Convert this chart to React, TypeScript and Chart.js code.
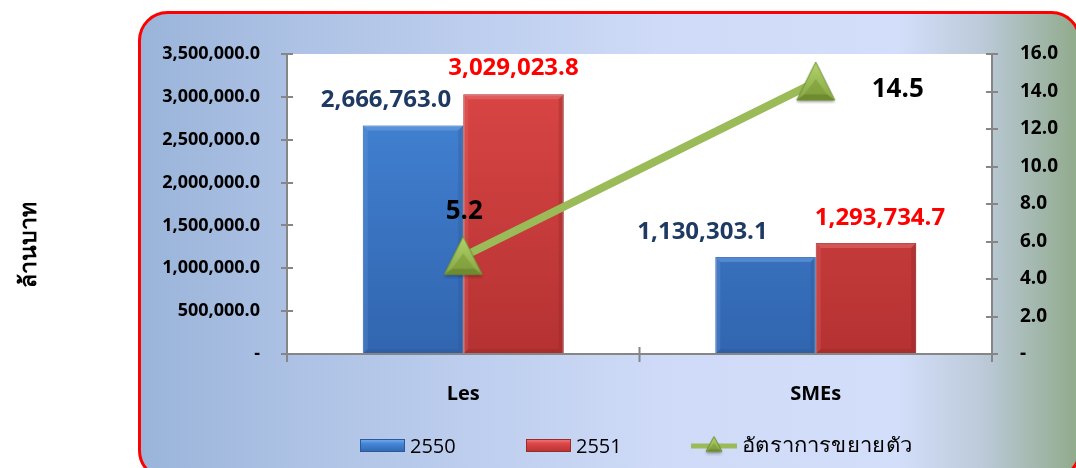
import React, { useEffect, useRef } from 'react';
import { Chart, registerables } from 'chart.js';
Chart.register(...registerables);

// ---- data ----
const categories = ['Les', 'SMEs'];
const series2550 = [2666763.0, 1130303.1];
const series2551 = [3029023.8, 1293734.7];
const growthRate = [5.2, 14.5];
const seriesNames = ['2550', '2551', 'อัตราการขยายตัว'];
const yTitle = 'ล้านบาท';
const leftMax = 3500000;
const leftStep = 500000;
const rightMax = 16;
const rightStep = 2;

// ---- style ----
const FONT = '"Open Sans", "Noto Sans", sans-serif';
const labelOffsets: number[][][] = [
  [[-27, -25], [-63, -25]],
  [[0, -26], [14, -25]],
  [[1, -45], [82, 7]],
];
const labelColors = ['#1F3A62', '#FF0000', '#000000'];

const fmt = (v: number) =>
  v === 0 ? '-' : v.toLocaleString('en-US', { minimumFractionDigits: 1, maximumFractionDigits: 1 });

function makeTriangle(w: number, h: number) {
  const c = document.createElement('canvas');
  c.width = w + 6;
  c.height = h + 6;
  const g = c.getContext('2d')!;
  const cx = c.width / 2;
  const top = 2, bot = h + 2, l = 3, r = w + 3;
  g.save();
  g.shadowColor = 'rgba(0,0,0,0.35)';
  g.shadowBlur = 3;
  g.shadowOffsetY = 2;
  g.beginPath();
  g.moveTo(cx, top);
  g.lineTo(r, bot);
  g.lineTo(l, bot);
  g.closePath();
  const gr = g.createLinearGradient(0, top, 0, bot);
  gr.addColorStop(0, '#B2D46A');
  gr.addColorStop(1, '#86A743');
  g.fillStyle = gr;
  g.fill();
  g.restore();
  const ix = cx, iy = top + h * 0.45;
  const il = l + w * 0.2, ir = r - w * 0.2, ib = bot - h * 0.15;
  g.beginPath();
  g.moveTo(l, bot); g.lineTo(r, bot); g.lineTo(ir, ib); g.lineTo(il, ib); g.closePath();
  g.fillStyle = '#6E8B30';
  g.fill();
  g.beginPath();
  g.moveTo(il, ib); g.lineTo(ir, ib); g.lineTo(ix, iy); g.closePath();
  g.fillStyle = 'rgba(120,150,55,0.55)';
  g.fill();
  g.beginPath();
  g.moveTo(cx, top); g.lineTo(r, bot); g.lineTo(l, bot); g.closePath();
  g.strokeStyle = '#728F35';
  g.lineWidth = 1;
  g.stroke();
  return c;
}

function barGradient(ctx: CanvasRenderingContext2D, area: any, c1: string, c2: string) {
  const g = ctx.createLinearGradient(0, area.top, 0, area.bottom);
  g.addColorStop(0, c1);
  g.addColorStop(1, c2);
  return g;
}

const barStyles = [
  { top: '#4587D9', bottom: '#3165AF', light: '#7DB0EE', dark: '#2A558F', border: '#2C5A98' },
  { top: '#DD4747', bottom: '#B53232', light: '#EE8080', dark: '#8E2626', border: '#9A2B2B' },
];

export default function App() {
  const ref = useRef<HTMLCanvasElement>(null);
  useEffect(() => {
    const canvas = ref.current!;
    const tri = makeTriangle(38, 38);
    const triSmall = makeTriangle(16, 15);

    const decor = {
      id: 'decor',
      beforeDraw(chart: any) {
        const ctx = chart.ctx as CanvasRenderingContext2D;
        const a = chart.chartArea;
        ctx.save();
        const bx = 139.5, by = 12.5, bw = 940, bh = 466, rr = 28;
        const path = () => {
          ctx.beginPath();
          ctx.moveTo(bx + rr, by);
          ctx.lineTo(bx + bw - rr, by);
          ctx.arcTo(bx + bw, by, bx + bw, by + rr, rr);
          ctx.lineTo(bx + bw, by + bh - rr);
          ctx.arcTo(bx + bw, by + bh, bx + bw - rr, by + bh, rr);
          ctx.lineTo(bx + rr, by + bh);
          ctx.arcTo(bx, by + bh, bx, by + bh - rr, rr);
          ctx.lineTo(bx, by + rr);
          ctx.arcTo(bx, by, bx + rr, by, rr);
          ctx.closePath();
        };
        const g = ctx.createLinearGradient(bx, 0, 1076, 0);
        g.addColorStop(0, '#9AB4D9');
        g.addColorStop(0.17, '#ADC2E5');
        g.addColorStop(0.55, '#CEDAF7');
        g.addColorStop(0.81, '#D3DEFA');
        g.addColorStop(0.9, '#BCCAD9');
        g.addColorStop(1, '#91AB8D');
        path();
        ctx.fillStyle = g;
        ctx.fill();
        ctx.lineWidth = 3;
        ctx.strokeStyle = '#FF0000';
        ctx.stroke();
        ctx.fillStyle = '#FFFFFF';
        ctx.fillRect(a.left, a.top, a.right - a.left, a.bottom - a.top);
        ctx.translate(29, 245);
        ctx.rotate(-Math.PI / 2);
        ctx.fillStyle = '#000';
        ctx.font = `bold 23px ${FONT}`;
        ctx.textAlign = 'center';
        ctx.textBaseline = 'middle';
        ctx.fillText(yTitle, 0, 0);
        ctx.restore();
      },
      afterDatasetDraw(chart: any, args: any) {
        if (args.index > 1) return;
        const ctx = chart.ctx as CanvasRenderingContext2D;
        const st = barStyles[args.index];
        ctx.save();
        args.meta.data.forEach((el: any) => {
          const p = el.getProps(['x', 'y', 'base', 'width'], true);
          const l = p.x - p.width / 2, r = p.x + p.width / 2, t = p.y, b = p.base;
          const d = 5;
          ctx.fillStyle = st.light;
          ctx.globalAlpha = 0.4;
          ctx.beginPath();
          ctx.moveTo(l, t); ctx.lineTo(r, t); ctx.lineTo(r - d, t + d); ctx.lineTo(l + d, t + d); ctx.closePath();
          ctx.fill();
          ctx.globalAlpha = 0.2;
          ctx.beginPath();
          ctx.moveTo(l, t); ctx.lineTo(l + d, t + d); ctx.lineTo(l + d, b - d); ctx.lineTo(l, b); ctx.closePath();
          ctx.fill();
          ctx.fillStyle = st.dark;
          ctx.globalAlpha = 0.3;
          ctx.beginPath();
          ctx.moveTo(r, t); ctx.lineTo(r - d, t + d); ctx.lineTo(r - d, b - d); ctx.lineTo(r, b); ctx.closePath();
          ctx.fill();
          ctx.beginPath();
          ctx.moveTo(l, b); ctx.lineTo(l + d, b - d); ctx.lineTo(r - d, b - d); ctx.lineTo(r, b); ctx.closePath();
          ctx.fill();
        });
        ctx.restore();
      },
      afterDatasetsDraw(chart: any) {
        const ctx = chart.ctx as CanvasRenderingContext2D;
        ctx.save();
        ctx.textAlign = 'center';
        ctx.textBaseline = 'middle';
        chart.data.datasets.forEach((ds: any, di: number) => {
          const meta = chart.getDatasetMeta(di);
          ctx.fillStyle = labelColors[di];
          ctx.font = di === 2 ? `bold 26px ${FONT}` : `bold 24px ${FONT}`;
          meta.data.forEach((el: any, i: number) => {
            const [dx, dy] = labelOffsets[di][i];
            ctx.fillText(fmt(ds.data[i]), el.x + dx, el.y + dy);
          });
        });
        ctx.restore();
      },
      afterDraw(chart: any) {
        const ctx = chart.ctx as CanvasRenderingContext2D;
        const a = chart.chartArea;
        const sy = chart.scales.y, sy1 = chart.scales.y1, sx = chart.scales.x;
        ctx.save();
        ctx.strokeStyle = '#868686';
        ctx.lineWidth = 2;
        ctx.beginPath();
        ctx.moveTo(a.left, a.top); ctx.lineTo(a.left, a.bottom + 8);
        ctx.moveTo(a.right, a.top); ctx.lineTo(a.right, a.bottom + 8);
        ctx.moveTo(a.left, a.bottom); ctx.lineTo(a.right, a.bottom);
        sy.ticks.forEach((t: any) => {
          const y = Math.round(sy.getPixelForValue(t.value));
          ctx.moveTo(a.left - 6, y); ctx.lineTo(a.left + 6, y);
        });
        sy1.ticks.forEach((t: any) => {
          const y = Math.round(sy1.getPixelForValue(t.value));
          ctx.moveTo(a.right - 6, y); ctx.lineTo(a.right + 6, y);
        });
        const mid = (sx.getPixelForValue(0) + sx.getPixelForValue(1)) / 2;
        ctx.moveTo(mid, a.bottom - 7); ctx.lineTo(mid, a.bottom + 8);
        ctx.stroke();

        // legend
        const ly = 446;
        const swatch = (x: number, st: any) => {
          const w = 45, h = 13, t = ly - 7;
          const g = ctx.createLinearGradient(0, t, 0, t + h);
          g.addColorStop(0, st.light);
          g.addColorStop(0.35, st.top);
          g.addColorStop(1, st.bottom);
          ctx.fillStyle = g;
          ctx.fillRect(x, t, w, h);
          ctx.strokeStyle = st.border;
          ctx.lineWidth = 1;
          ctx.strokeRect(x + 0.5, t + 0.5, w - 1, h - 1);
        };
        swatch(360, barStyles[0]);
        swatch(526, barStyles[1]);
        ctx.fillStyle = '#000';
        ctx.font = `20px ${FONT}`;
        ctx.textAlign = 'left';
        ctx.textBaseline = 'middle';
        ctx.fillText(seriesNames[0], 410, ly + 1);
        ctx.fillText(seriesNames[1], 576, ly + 1);
        ctx.strokeStyle = '#9BBB59';
        ctx.lineWidth = 5;
        ctx.beginPath();
        ctx.moveTo(691, ly); ctx.lineTo(737, ly);
        ctx.stroke();
        ctx.drawImage(triSmall, 714 - triSmall.width / 2, ly - triSmall.height / 2 - 1);
        ctx.font = `20px ${FONT}`;
        const tw = ctx.measureText(seriesNames[2]).width;
        ctx.translate(742, ly);
        ctx.scale(Math.min(1.4, 170 / tw), 1);
        ctx.fillText(seriesNames[2], 0, 0);
        ctx.restore();
      },
    };

    const chart = new Chart(canvas, {
      type: 'bar',
      data: {
        labels: categories,
        datasets: [
          {
            type: 'bar',
            label: seriesNames[0],
            data: series2550,
            yAxisID: 'y',
            order: 2,
            backgroundColor: (c: any) =>
              c.chart.chartArea ? barGradient(c.chart.ctx, c.chart.chartArea, barStyles[0].top, barStyles[0].bottom) : barStyles[0].top,
            borderColor: barStyles[0].border,
            borderWidth: 1,
            categoryPercentage: 0.57,
            barPercentage: 1.0,
          },
          {
            type: 'bar',
            label: seriesNames[1],
            data: series2551,
            yAxisID: 'y',
            order: 2,
            backgroundColor: (c: any) =>
              c.chart.chartArea ? barGradient(c.chart.ctx, c.chart.chartArea, barStyles[1].top, barStyles[1].bottom) : barStyles[1].top,
            borderColor: barStyles[1].border,
            borderWidth: 1,
            categoryPercentage: 0.57,
            barPercentage: 1.0,
          },
          {
            type: 'line',
            label: seriesNames[2],
            data: growthRate,
            yAxisID: 'y1',
            order: 0,
            borderColor: '#9BBB59',
            borderWidth: 8,
            pointStyle: tri as any,
            pointRadius: 19,
            tension: 0,
          },
        ] as any,
      },
      options: {
        animation: false,
        responsive: false,
        events: [],
        layout: { padding: { top: 54, left: 0, right: 0, bottom: 0 } },
        plugins: { legend: { display: false }, tooltip: { enabled: false } },
        scales: {
          x: {
            type: 'category',
            offset: true,
            grid: { display: false, drawTicks: false },
            border: { display: false },
            ticks: { color: '#000', font: { family: FONT, size: 20, weight: 'bold' }, padding: 28 },
            afterFit: (s: any) => { s.height = 114; },
          },
          y: {
            position: 'left',
            min: 0,
            max: leftMax,
            grid: { display: false, drawTicks: false },
            border: { display: false },
            ticks: {
              stepSize: leftStep,
              color: '#000',
              padding: 27,
              font: { family: FONT, size: 18, weight: 'bold' },
              callback: (v: any) => fmt(Number(v)),
            },
            afterFit: (s: any) => { s.width = 287; },
          },
          y1: {
            position: 'right',
            min: 0,
            max: rightMax,
            grid: { display: false, drawTicks: false },
            border: { display: false },
            ticks: {
              stepSize: rightStep,
              color: '#000',
              padding: 28,
              font: { family: FONT, size: 19, weight: 'bold' },
              callback: (v: any) => fmt(Number(v)),
            },
            afterFit: (s: any) => { s.width = 84; },
          },
        },
      } as any,
      plugins: [decor],
    });
    return () => chart.destroy();
  }, []);

  return (
    <div style={{ position: 'fixed', left: 0, top: 0, width: 1076, height: 468, background: '#fff' }}>
      <canvas ref={ref} width={1076} height={468} style={{ display: 'block', width: 1076, height: 468 }} />
    </div>
  );
}
